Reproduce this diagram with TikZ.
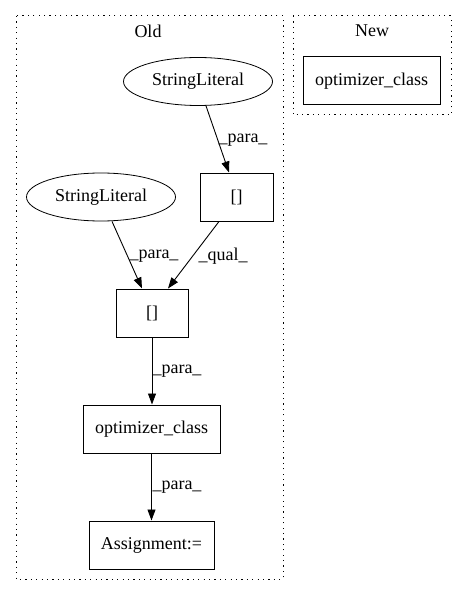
\documentclass[tikz,border=0pt]{standalone}
\usepackage{fontspec}
\setmainfont{Liberation Serif}
\usetikzlibrary{arrows.meta,shapes.geometric}
\begin{document}
\begin{tikzpicture}[x=1pt,y=-1pt,
  font=\fontsize{18}{21}\selectfont,
  every node/.style={inner sep=0pt},
  box/.style={draw,line width=1pt,minimum height=48pt},
  oval/.style={draw,ellipse,line width=0.8pt,minimum width=149pt,minimum height=48pt},
  cluster/.style={line width=1pt,dash pattern=on 1.2pt off 4.2pt},
  edge/.style={line width=0.9pt,-{Triangle[length=11pt,width=8pt]}},
  lab/.style={anchor=center}]
\useasboundingbox (0,0) rectangle (467,596);
\draw[cluster] (16,16) rectangle (283,579);
\draw[cluster] (293,16) rectangle (451,115);
\node (old) at (148,31) {Old};
\node (new) at (372,31) {New};
\node[box,minimum width=137pt] (newopt) at (371.5,81) {optimizer\_class};
\node[oval] (sl1) at (198,81.5) {StringLiteral};
\node[oval] (sl2) at (101,197) {StringLiteral};
\node[box,minimum width=73pt] (ub) at (236.5,197) {[]};
\node[box,minimum width=72pt] (lb) at (152,313) {[]};
\node[box,minimum width=137pt] (opt) at (151.5,429) {optimizer\_class};
\node[box,minimum width=125pt] (asg) at (151.5,545) {Assignment:=};
\draw[edge] ([xshift=8pt]sl1.south) -- ([xshift=-7.5pt]ub.north);
\draw[edge] ([xshift=11pt]sl2.south) -- ([xshift=-10pt]lb.north);
\draw[edge] ([xshift=-17.5pt]ub.south) -- ([xshift=16pt]lb.north);
\draw[edge] (lb.south) -- (lb.south |- opt.north);
\draw[edge] (opt.south) -- (opt.south |- asg.north);
\node[lab] (l1) at (243,140) {\_para\_};
\node[lab] (l2) at (154,256) {\_para\_};
\node[lab] (l3) at (223,256) {\_qual\_};
\node[lab] (l4) at (177,371) {\_para\_};
\node[lab] (l5) at (177,487) {\_para\_};
\end{tikzpicture}
\end{document}
